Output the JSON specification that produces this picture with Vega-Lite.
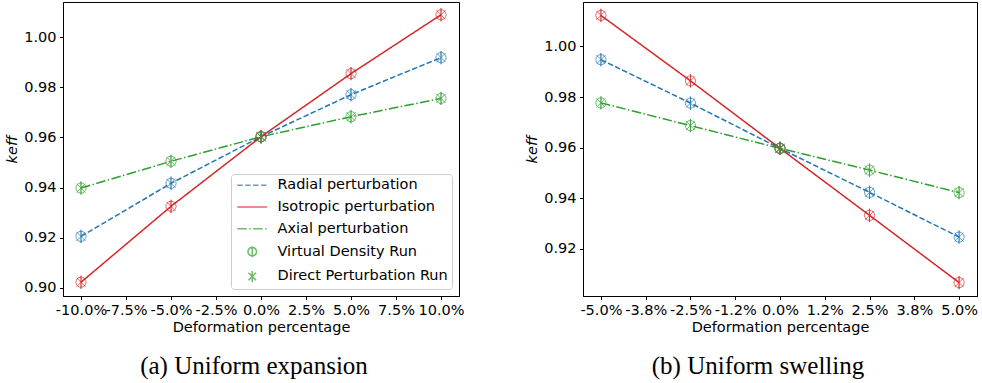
{
  "$schema": "https://vega.github.io/schema/vega-lite/v6.json",
  "padding": {"left": 4, "top": 1, "right": 3, "bottom": 5},
  "background": "white",
  "config": {
    "view": {"stroke": "#000", "strokeWidth": 1},
    "axis": {"domainColor": "#000", "tickColor": "#000", "labelColor": "#000", "titleColor": "#000", "labelFont": "DejaVu Sans", "titleFont": "DejaVu Sans", "labelFontSize": 14.5, "titleFontSize": 14.5, "titleFontWeight": "normal", "tickSize": 3.5, "labelPadding": 3.5, "grid": false, "labelOverlap": false, "labelFlush": false},
    "title": {"font": "Liberation Serif", "fontSize": 25, "fontWeight": "normal", "color": "#000", "orient": "bottom", "anchor": "middle"},
    "legend": {"orient": "bottom-right", "offset": 7, "padding": 4, "symbolOffset": 10, "labelOffset": 18, "rowPadding": 6.8, "labelFont": "DejaVu Sans", "labelFontSize": 14.5, "labelColor": "#000", "labelLimit": 0, "symbolSize": 100, "symbolStrokeWidth": 1.5, "symbolFillColor": "transparent", "strokeColor": "#cccccc", "fillColor": "rgba(255,255,255,0.8)", "cornerRadius": 3}
  },
  "spacing": 59,
  "resolve": {
    "scale": {"color": "independent", "shape": "independent", "strokeDash": "independent", "x": "independent", "y": "independent"},
    "legend": {"color": "independent", "shape": "independent", "strokeDash": "independent"}
  },
  "datasets": {
    "expansion": [
      {"pert": "Radial perturbation", "x": -10, "Virtual Density Run": 0.9205, "Direct Perturbation Run": 0.9205},
      {"pert": "Radial perturbation", "x": -5, "Virtual Density Run": 0.9417, "Direct Perturbation Run": 0.9417},
      {"pert": "Radial perturbation", "x": 0, "Virtual Density Run": 0.9603, "Direct Perturbation Run": 0.9603},
      {"pert": "Radial perturbation", "x": 5, "Virtual Density Run": 0.9771, "Direct Perturbation Run": 0.9771},
      {"pert": "Radial perturbation", "x": 10, "Virtual Density Run": 0.9919, "Direct Perturbation Run": 0.9919},
      {"pert": "Isotropic perturbation", "x": -10, "Virtual Density Run": 0.9022, "Direct Perturbation Run": 0.9022},
      {"pert": "Isotropic perturbation", "x": -5, "Virtual Density Run": 0.9325, "Direct Perturbation Run": 0.9325},
      {"pert": "Isotropic perturbation", "x": 0, "Virtual Density Run": 0.9603, "Direct Perturbation Run": 0.9603},
      {"pert": "Isotropic perturbation", "x": 5, "Virtual Density Run": 0.9855, "Direct Perturbation Run": 0.9855},
      {"pert": "Isotropic perturbation", "x": 10, "Virtual Density Run": 1.009, "Direct Perturbation Run": 1.009},
      {"pert": "Axial perturbation", "x": -10, "Virtual Density Run": 0.9398, "Direct Perturbation Run": 0.9398},
      {"pert": "Axial perturbation", "x": -5, "Virtual Density Run": 0.9505, "Direct Perturbation Run": 0.9505},
      {"pert": "Axial perturbation", "x": 0, "Virtual Density Run": 0.9603, "Direct Perturbation Run": 0.9603},
      {"pert": "Axial perturbation", "x": 5, "Virtual Density Run": 0.9683, "Direct Perturbation Run": 0.9683},
      {"pert": "Axial perturbation", "x": 10, "Virtual Density Run": 0.9756, "Direct Perturbation Run": 0.9756}
    ],
    "swelling": [
      {"pert": "Radial perturbation", "x": -5, "Virtual Density Run": 0.9948, "Direct Perturbation Run": 0.9948},
      {"pert": "Radial perturbation", "x": -2.5, "Virtual Density Run": 0.9776, "Direct Perturbation Run": 0.9776},
      {"pert": "Radial perturbation", "x": 0, "Virtual Density Run": 0.9597, "Direct Perturbation Run": 0.9597},
      {"pert": "Radial perturbation", "x": 2.5, "Virtual Density Run": 0.9423, "Direct Perturbation Run": 0.9423},
      {"pert": "Radial perturbation", "x": 5, "Virtual Density Run": 0.9246, "Direct Perturbation Run": 0.9246},
      {"pert": "Isotropic perturbation", "x": -5, "Virtual Density Run": 1.0123, "Direct Perturbation Run": 1.0123},
      {"pert": "Isotropic perturbation", "x": -2.5, "Virtual Density Run": 0.9864, "Direct Perturbation Run": 0.9864},
      {"pert": "Isotropic perturbation", "x": 0, "Virtual Density Run": 0.9597, "Direct Perturbation Run": 0.9597},
      {"pert": "Isotropic perturbation", "x": 2.5, "Virtual Density Run": 0.9332, "Direct Perturbation Run": 0.9332},
      {"pert": "Isotropic perturbation", "x": 5, "Virtual Density Run": 0.9066, "Direct Perturbation Run": 0.9066},
      {"pert": "Axial perturbation", "x": -5, "Virtual Density Run": 0.9777, "Direct Perturbation Run": 0.9777},
      {"pert": "Axial perturbation", "x": -2.5, "Virtual Density Run": 0.9687, "Direct Perturbation Run": 0.9687},
      {"pert": "Axial perturbation", "x": 0, "Virtual Density Run": 0.9597, "Direct Perturbation Run": 0.9597},
      {"pert": "Axial perturbation", "x": 2.5, "Virtual Density Run": 0.9511, "Direct Perturbation Run": 0.9511},
      {"pert": "Axial perturbation", "x": 5, "Virtual Density Run": 0.9422, "Direct Perturbation Run": 0.9422}
    ]
  },
  "hconcat": [
    {
      "width": 396,
      "height": 294,
      "title": {"text": "(a) Uniform expansion", "offset": 20, "dx": -7},
      "data": {"name": "expansion"},
      "layer": [
        {
          "mark": {"type": "line", "strokeWidth": 1.5},
          "encoding": {
            "x": {"field": "x", "type": "quantitative", "scale": {"domain": [-11, 11], "nice": false, "zero": false}, "axis": {"values": [-10, -7.5, -5, -2.5, 0, 2.5, 5, 7.5, 10], "labelExpr": "(datum.value < 0 ? '-' : '') + format(abs(datum.value), '.1f') + '%'", "title": "Deformation percentage"}},
            "y": {"field": "Virtual Density Run", "type": "quantitative", "scale": {"domain": [0.8967, 1.0141], "nice": false, "zero": false}, "axis": {"values": [0.9, 0.92, 0.94, 0.96, 0.98, 1.0], "format": ".2f", "title": "keff", "titleFontStyle": "italic", "titlePadding": 4}},
            "color": {"field": "pert", "type": "nominal", "scale": {"domain": ["Radial perturbation", "Isotropic perturbation", "Axial perturbation", "Virtual Density Run", "Direct Perturbation Run"], "range": ["#1f77b4", "#d62728", "#2ca02c", "#2ca02c", "#2ca02c"]}, "legend": {"title": null}},
            "strokeDash": {"field": "pert", "type": "nominal", "scale": {"domain": ["Radial perturbation", "Isotropic perturbation", "Axial perturbation", "Virtual Density Run", "Direct Perturbation Run"], "range": [[5.5, 2.4], [1, 0], [9.6, 2.4, 1.5, 2.4], [1, 0], [1, 0]]}, "legend": {"title": null}}
          }
        },
        {
          "transform": [{"fold": ["Virtual Density Run", "Direct Perturbation Run"], "as": ["run", "k"]}],
          "mark": {"type": "point", "filled": false, "size": 144, "strokeWidth": 1},
          "encoding": {
            "x": {"field": "x", "type": "quantitative"},
            "y": {"field": "k", "type": "quantitative"},
            "color": {"field": "pert", "type": "nominal"},
            "shape": {"field": "run", "type": "nominal", "scale": {"domain": ["Radial perturbation", "Isotropic perturbation", "Axial perturbation", "Virtual Density Run", "Direct Perturbation Run"], "range": ["M-3,0L3,0", "M-3,0L3,0", "M-3,0L3,0", "M0.85,0A0.85,0.85,0,1,1,-0.85,0A0.85,0.85,0,1,1,0.85,0M0,-1.1L0,1.1", "M-0.75,-0.75L0.75,0.75M-0.75,0.75L0.75,-0.75M0,-1.1L0,1.1"]}, "legend": {"title": null}}
          }
        }
      ]
    },
    {
      "width": 394,
      "height": 294,
      "title": {"text": "(b) Uniform swelling", "offset": 20, "dx": -22},
      "data": {"name": "swelling"},
      "layer": [
        {
          "mark": {"type": "line", "strokeWidth": 1.5},
          "encoding": {
            "x": {"field": "x", "type": "quantitative", "scale": {"domain": [-5.5, 5.5], "nice": false, "zero": false}, "axis": {"values": [-5, -3.75, -2.5, -1.25, 0, 1.25, 2.5, 3.75, 5], "labelExpr": "(datum.value < 0 ? '-' : '') + (abs(datum.value) == 1.25 ? '1.2' : format(abs(datum.value), '.1f')) + '%'", "title": "Deformation percentage"}},
            "y": {"field": "Virtual Density Run", "type": "quantitative", "scale": {"domain": [0.9013, 1.0176], "nice": false, "zero": false}, "axis": {"values": [0.92, 0.94, 0.96, 0.98, 1.0], "format": ".2f", "title": "keff", "titleFontStyle": "italic", "titlePadding": 4}},
            "color": {"field": "pert", "type": "nominal", "scale": {"domain": ["Radial perturbation", "Isotropic perturbation", "Axial perturbation"], "range": ["#1f77b4", "#d62728", "#2ca02c"]}, "legend": null},
            "strokeDash": {"field": "pert", "type": "nominal", "scale": {"domain": ["Radial perturbation", "Isotropic perturbation", "Axial perturbation"], "range": [[5.5, 2.4], [1, 0], [9.6, 2.4, 1.5, 2.4]]}, "legend": null}
          }
        },
        {
          "transform": [{"fold": ["Virtual Density Run", "Direct Perturbation Run"], "as": ["run", "k"]}],
          "mark": {"type": "point", "filled": false, "size": 144, "strokeWidth": 1},
          "encoding": {
            "x": {"field": "x", "type": "quantitative"},
            "y": {"field": "k", "type": "quantitative"},
            "color": {"field": "pert", "type": "nominal", "legend": null},
            "shape": {"field": "run", "type": "nominal", "scale": {"domain": ["Virtual Density Run", "Direct Perturbation Run"], "range": ["M0.85,0A0.85,0.85,0,1,1,-0.85,0A0.85,0.85,0,1,1,0.85,0M0,-1.1L0,1.1", "M-0.75,-0.75L0.75,0.75M-0.75,0.75L0.75,-0.75M0,-1.1L0,1.1"]}, "legend": null}
          }
        }
      ]
    }
  ]
}
